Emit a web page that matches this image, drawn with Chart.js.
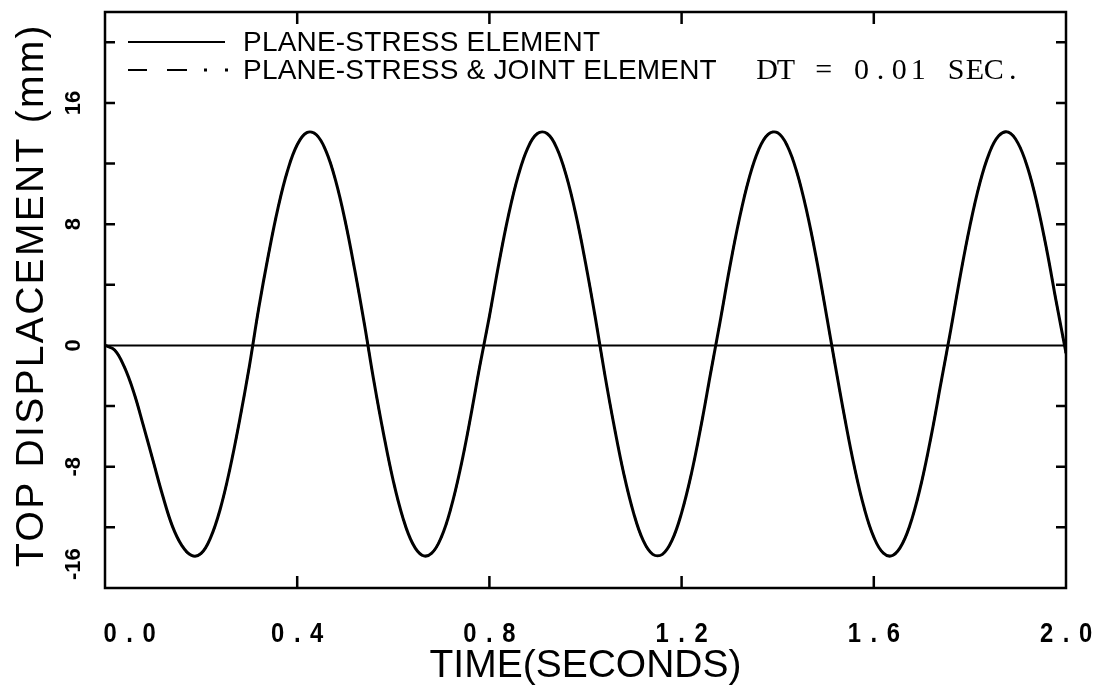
<!DOCTYPE html>
<html>
<head>
<meta charset="utf-8">
<script src="https://cdn.jsdelivr.net/npm/chart.js@4.4.1/dist/chart.umd.min.js"></script>
<style>
html,body{margin:0;padding:0;background:#fff;}
canvas{display:block;}
</style>
</head>
<body>
<canvas id="c" width="1100" height="690"></canvas>
<script>
// ---- data ----
const timeSec = [
 0.00,0.02,0.04,0.06,0.08,0.10,0.12,0.14,0.16,0.18,
 0.20,0.22,0.24,0.26,0.28,0.30,0.32,0.34,0.36,0.38,
 0.40,0.42,0.44,0.46,0.48,0.50,0.52,0.54,0.56,0.58,
 0.60,0.62,0.64,0.66,0.68,0.70,0.72,0.74,0.76,0.78,
 0.80,0.82,0.84,0.86,0.88,0.90,0.92,0.94,0.96,0.98,
 1.00,1.02,1.04,1.06,1.08,1.10,1.12,1.14,1.16,1.18,
 1.20,1.22,1.24,1.26,1.28,1.30,1.32,1.34,1.36,1.38,
 1.40,1.42,1.44,1.46,1.48,1.50,1.52,1.54,1.56,1.58,
 1.60,1.62,1.64,1.66,1.68,1.70,1.72,1.74,1.76,1.78,
 1.80,1.82,1.84,1.86,1.88,1.90,1.92,1.94,1.96,1.98,
 2.00
];
const planeStress = [
 0,-0.3,-1.4,-3.1,-5.3,-7.6,-9.9,-11.9,-13.2,-13.85,
 -13.72,-12.66,-10.77,-8.13,-4.96,-1.45,2.47,5.96,9.06,11.54,
 13.24,14.04,13.90,12.82,10.87,8.19,4.94,1.38,-2.43,-5.88,
 -8.94,-11.37,-13.05,-13.84,-13.70,-12.64,-10.72,-8.07,-4.87,-1.36,
 1.92,5.46,8.63,11.20,13.04,13.98,13.98,13.04,11.20,8.63,
 5.46,1.92,-1.89,-5.38,-8.51,-11.04,-12.86,-13.78,-13.78,-12.86,
 -11.04,-8.51,-5.38,-1.89,1.55,5.12,8.33,10.98,12.89,13.93,
 14.03,13.17,11.42,8.91,5.81,2.28,-1.36,-4.87,-8.07,-10.72,
 -12.64,-13.70,-13.84,-13.05,-11.37,-8.94,-5.88,-2.43,1.00,4.60,
 7.88,10.63,12.66,13.83,14.07,13.35,11.74,9.33,6.29,2.83,
 -0.5
];
const planeStressJoint = [
 0,-0.3,-1.4,-3.1,-5.3,-7.6,-9.9,-11.9,-13.2,-13.85,
 -13.72,-12.66,-10.77,-8.13,-4.96,-1.45,2.47,5.96,9.06,11.54,
 13.24,14.04,13.90,12.82,10.87,8.19,4.94,1.38,-2.43,-5.88,
 -8.94,-11.37,-13.05,-13.84,-13.70,-12.64,-10.72,-8.07,-4.87,-1.36,
 1.92,5.46,8.63,11.20,13.04,13.98,13.98,13.04,11.20,8.63,
 5.46,1.92,-1.89,-5.38,-8.51,-11.04,-12.86,-13.78,-13.78,-12.86,
 -11.04,-8.51,-5.38,-1.89,1.55,5.12,8.33,10.98,12.89,13.93,
 14.03,13.17,11.42,8.91,5.81,2.28,-1.36,-4.87,-8.07,-10.72,
 -12.64,-13.70,-13.84,-13.05,-11.37,-8.94,-5.88,-2.43,1.00,4.60,
 7.88,10.63,12.66,13.83,14.07,13.35,11.74,9.33,6.29,2.83,
 -0.6
];
const xTickMarks = [0.4, 0.8, 1.2, 1.6];
const xTickLabels = ['0.0','0.4','0.8','1.2','1.6','2.0'];
const xTickLabelVals = [0.0,0.4,0.8,1.2,1.6,2.0];
const yTickMarks = [-12,-8,-4,4,8,12,16,20];
const yTickLabels = ['-16','-8','0','8','16'];
const yTickLabelVals = [-16,-8,0,8,16];
const seriesNames = ['PLANE-STRESS ELEMENT','PLANE-STRESS & JOINT ELEMENT'];
const noteText = 'DT = 0.01 SEC.';
const xTitle = 'TIME(SECONDS)';
const yTitle = 'TOP DISPLACEMENT (mm)';

const toPts = arr => arr.map((v,i)=>({x:timeSec[i], y:v}));

const SANS = "'Liberation Sans', Arial, sans-serif";
const SERIF = "'Liberation Serif', 'DejaVu Serif', serif";

function spacedText(ctx, str, cx, y, pitch, sx){
  sx = sx || 1;
  for (let k=0;k<str.length;k++){
    ctx.save();
    ctx.translate(cx + (k-(str.length-1)/2)*pitch, y);
    ctx.scale(sx,1);
    ctx.fillText(str[k], 0, 0);
    ctx.restore();
  }
}

const framePlugin = {
  id:'frame',
  beforeDatasetsDraw(chart){
    const {ctx, chartArea:a, scales:{y}} = chart;
    ctx.save();
    ctx.strokeStyle='#000'; ctx.lineWidth=2;
    const y0 = y.getPixelForValue(0);
    ctx.beginPath(); ctx.moveTo(a.left,y0); ctx.lineTo(a.right,y0); ctx.stroke();
    ctx.restore();
  },
  afterDraw(chart){
    const {ctx, chartArea:a, scales:{x,y}} = chart;
    ctx.save();
    ctx.strokeStyle='#000'; ctx.fillStyle='#000';
    ctx.lineWidth=2.5;
    ctx.strokeRect(a.left,a.top,a.right-a.left,a.bottom-a.top);
    // ticks
    ctx.beginPath();
    yTickMarks.forEach(v=>{
      const p=y.getPixelForValue(v);
      ctx.moveTo(a.left,p); ctx.lineTo(a.left+10,p);
      ctx.moveTo(a.right,p); ctx.lineTo(a.right-10,p);
    });
    xTickMarks.forEach(v=>{
      const p=x.getPixelForValue(v);
      ctx.moveTo(p,a.bottom); ctx.lineTo(p,a.bottom-12);
      ctx.moveTo(p,a.top); ctx.lineTo(p,a.top+12);
    });
    ctx.stroke();
    // x tick labels (spaced characters)
    ctx.font = "bold 28px "+SANS;
    ctx.textAlign='center'; ctx.textBaseline='alphabetic';
    const pitch = 19.5;
    xTickLabels.forEach((lab,i)=>{
      let c = x.getPixelForValue(xTickLabelVals[i]);
      const half = pitch*(lab.length-1)/2 + 7;
      if (c-half < a.left-3) c = a.left-2+half;
      spacedText(ctx, lab, c, 642, pitch, 0.85);
    });
    // y tick labels rotated
    ctx.font = "bold 22px "+SANS;
    yTickLabels.forEach((lab,i)=>{
      let p = y.getPixelForValue(yTickLabelVals[i]);
      const half = ctx.measureText(lab).width/2;
      if (p+half > a.bottom-8) p = a.bottom-8-half;
      ctx.save();
      ctx.translate(80,p); ctx.rotate(-Math.PI/2);
      ctx.textAlign='center'; ctx.textBaseline='alphabetic';
      ctx.fillText(lab,0,0);
      ctx.restore();
    });
    // axis titles
    ctx.font = "39px "+SANS;
    ctx.textAlign='center'; ctx.textBaseline='alphabetic';
    ctx.fillText(xTitle, (a.left+a.right)/2, 677);
    ctx.save();
    ctx.translate(43, 295); ctx.rotate(-Math.PI/2);
    ctx.letterSpacing = '2.3px';
    ctx.fillText(yTitle,0,0);
    ctx.restore();
    // legend
    ctx.lineWidth=2.2;
    ctx.beginPath(); ctx.moveTo(128,42); ctx.lineTo(225,42); ctx.stroke();
    ctx.beginPath(); ctx.moveTo(128,70); ctx.lineTo(147,70); ctx.moveTo(167,70); ctx.lineTo(187,70); ctx.stroke();
    ctx.fillRect(204,68.5,3,3); ctx.fillRect(225,68.5,3,3);
    ctx.save();
    ctx.font = "28px "+SANS;
    ctx.letterSpacing = '0.2px';
    ctx.textAlign='left'; ctx.textBaseline='middle';
    ctx.fillText(seriesNames[0],243,43);
    ctx.fillText(seriesNames[1],243,71);
    ctx.restore();
    ctx.font = "30px "+SERIF;
    ctx.textAlign='center'; ctx.textBaseline='middle';
    spacedText(ctx, noteText, 758 + 18.9*6.5 + 9, 71, 18.9, 1);
    ctx.restore();
  }
};

new Chart(document.getElementById('c'),{
  type:'line',
  data:{
    datasets:[
      {label:seriesNames[0], data:toPts(planeStress), borderColor:'#000', borderWidth:3,
       pointRadius:0, tension:0.4, fill:false},
      {label:seriesNames[1], data:toPts(planeStressJoint), borderColor:'#000', borderWidth:2,
       borderDash:[18,12,3,12,3,12], pointRadius:0, tension:0.4, fill:false}
    ]
  },
  options:{
    responsive:false, animation:false,
    layout:{padding:{left:105,right:34,top:12,bottom:102}},
    plugins:{legend:{display:false}, tooltip:{enabled:false}},
    scales:{
      x:{type:'linear', min:0, max:2, display:false},
      y:{type:'linear', min:-16, max:22, display:false}
    }
  },
  plugins:[framePlugin]
});
</script>
</body>
</html>
